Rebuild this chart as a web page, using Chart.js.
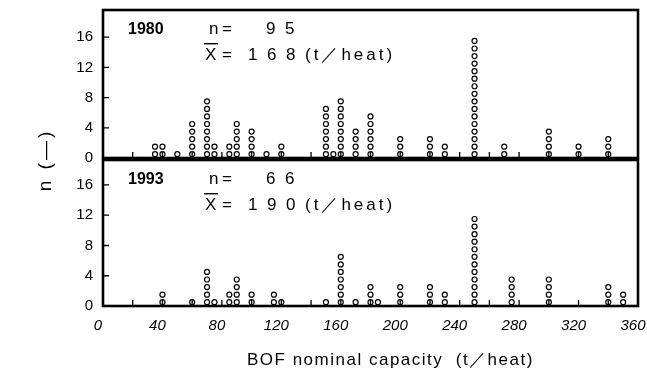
<!DOCTYPE html>
<html>
<head>
<meta charset="utf-8">
<script src="https://cdn.jsdelivr.net/npm/chart.js@4"></script>
<style>
  body { margin: 0; background: #fff; }
  #wrap { position: relative; width: 647px; height: 376px; }
  canvas { position: absolute; left: 0; }
</style>
</head>
<body>
<div id="wrap">
  <canvas id="bottomChart" width="647" height="376" style="top:0"></canvas>
  <canvas id="topChart" width="647" height="166" style="top:0"></canvas>
</div>
<script>
// Datele: capacitatea convertizorului si cate unitati au fiecare capacitate
const capacities1980 = [35, 40, 50, 60, 70, 75, 85, 90, 100, 110, 120, 150, 155, 160, 170, 180, 200, 220, 230, 250, 270, 300, 320, 340];
const counts1980 = [2, 2, 1, 5, 8, 2, 2, 5, 4, 1, 2, 7, 1, 8, 4, 6, 3, 3, 2, 16, 2, 4, 2, 3];
const capacities1993 = [40, 60, 70, 75, 85, 90, 100, 115, 120, 150, 160, 170, 180, 185, 200, 220, 230, 250, 275, 300, 340, 350];
const counts1993 = [2, 1, 5, 1, 2, 4, 2, 2, 1, 1, 7, 1, 3, 1, 3, 3, 2, 12, 4, 4, 3, 2];
const yTickValues = [0, 4, 8, 12, 16];
const xTickValues = [0, 40, 80, 120, 160, 200, 240, 280, 320, 360];
const xMinorTicks = [20, 40, 60, 80, 100, 120, 140, 160, 180, 200, 220, 240, 260, 280, 300, 320, 340];

const FONT = '"Liberation Sans", Arial, sans-serif';

// fiecare unitate devine un cerc asezat pe coloana
function stackPoints(caps, counts) {
    const pts = [];
    caps.forEach((c, i) => {
        for (let k = 1; k <= counts[i]; k++) pts.push({ x: c, y: k - 0.5 });
    });
    return pts;
}

// rama groasa si liniutele interioare
const framePlugin = {
    id: 'frame',
    afterDraw(chart) {
        const ctx = chart.ctx;
        const { left, right, top, bottom } = chart.chartArea;
        const xs = chart.scales.x, ys = chart.scales.y;
        ctx.save();
        ctx.strokeStyle = '#000';
        ctx.lineWidth = 1.3;
        ctx.beginPath();
        xMinorTicks.forEach(v => {
            const px = xs.getPixelForValue(v);
            ctx.moveTo(px, bottom);
            ctx.lineTo(px, bottom - 6);
        });
        yTickValues.slice(1).forEach(v => {
            const py = ys.getPixelForValue(v);
            ctx.moveTo(left, py);
            ctx.lineTo(left + 6, py);
        });
        ctx.stroke();
        ctx.lineWidth = 2.6;
        ctx.strokeRect(left, top, right - left, bottom - top);
        ctx.restore();
    }
};

// textul din fiecare panou: anul, n si media
const panelTextPlugin = {
    id: 'panelText',
    afterDraw(chart, args, opts) {
        if (!opts.year) return;
        const ctx = chart.ctx;
        const b1 = opts.base, b2 = opts.base + 26;
        ctx.save();
        ctx.fillStyle = '#000';
        ctx.textBaseline = 'alphabetic';
        ctx.font = 'bold 16px ' + FONT;
        ctx.fillText(opts.year, 128, b1);
        ctx.font = '17px ' + FONT;
        ctx.fillText('n', 209, b1);
        ctx.fillText('=', 222, b1);
        String(opts.n).split('').forEach((d, i) => ctx.fillText(d, 266 + i * 19, b1));
        ctx.fillText('X', 205, b2);
        ctx.fillRect(204, b2 - 17, 14, 1.4);
        ctx.fillText('=', 222, b2);
        String(opts.mean).split('').forEach((d, i) => ctx.fillText(d, 248 + i * 19, b2));
        ctx.letterSpacing = '3px';
        ctx.fillText('(t\uFF0Fheat)', 305, b2);
        ctx.restore();
    }
};

// titlurile axelor
const axisTitlePlugin = {
    id: 'axisTitles',
    afterDraw(chart, args, opts) {
        if (!opts.show) return;
        const ctx = chart.ctx;
        ctx.save();
        ctx.fillStyle = '#000';
        ctx.font = '17px ' + FONT;
        ctx.letterSpacing = '1.5px';
        ctx.textBaseline = 'alphabetic';
        ctx.fillText('BOF nominal capacity  (t\uFF0Fheat)', 247, 365);
        ctx.translate(46, 160);
        ctx.rotate(-Math.PI / 2);
        ctx.textAlign = 'center';
        ctx.textBaseline = 'middle';
        ctx.font = '19px ' + FONT;
        ctx.letterSpacing = '3px';
        ctx.fillText('n (\u2014)', 0, 0);
        ctx.restore();
    }
};

function makeOptions(showX, padTop, padBottom, yMax, panel) {
    return {
        responsive: false,
        animation: false,
        devicePixelRatio: 1,
        layout: { padding: { top: padTop, bottom: padBottom, right: 9, left: 0 } },
        plugins: {
            legend: { display: false },
            tooltip: { enabled: false },
            panelText: panel,
            axisTitles: { show: showX }
        },
        scales: {
            x: {
                type: 'linear',
                min: 0,
                max: 360,
                display: showX,
                grid: { display: false, drawTicks: false },
                border: { display: false },
                afterBuildTicks: s => { s.ticks = xTickValues.map(v => ({ value: v })); },
                afterFit: s => {
                    s.height = showX ? 70 : 0;
                    s.paddingLeft = 0; s.paddingRight = 0;
                },
                ticks: {
                    padding: 11,
                    labelOffset: -5,
                    color: '#000',
                    maxRotation: 0,
                    autoSkip: false,
                    font: { family: FONT, size: 15, style: 'italic' }
                }
            },
            y: {
                min: 0,
                max: yMax,
                grid: { display: false, drawTicks: false },
                border: { display: false },
                afterBuildTicks: s => { s.ticks = yTickValues.map(v => ({ value: v })); },
                afterFit: s => {
                    s.width = 103;
                    s.paddingTop = 0; s.paddingBottom = 0;
                },
                ticks: {
                    padding: 10,
                    color: '#000',
                    font: { family: FONT, size: 15 }
                }
            }
        }
    };
}

function makeDataset(caps, counts) {
    return {
        data: stackPoints(caps, counts),
        showLine: false,
        pointStyle: 'circle',
        pointRadius: 2.5,
        pointBorderWidth: 1.2,
        pointBorderColor: '#000',
        pointBackgroundColor: 'rgba(0,0,0,0)'
    };
}

new Chart(document.getElementById('topChart').getContext('2d'), {
    type: 'scatter',
    data: { datasets: [makeDataset(capacities1980, counts1980)] },
    options: makeOptions(false, 10, 8, 19.6, { year: '1980', n: 95, mean: 168, base: 34 }),
    plugins: [framePlugin, panelTextPlugin, axisTitlePlugin]
});

new Chart(document.getElementById('bottomChart').getContext('2d'), {
    type: 'scatter',
    data: { datasets: [makeDataset(capacities1993, counts1993)] },
    options: makeOptions(true, 160, 0, 19.3, { year: '1993', n: 66, mean: 190, base: 184 }),
    plugins: [framePlugin, panelTextPlugin, axisTitlePlugin]
});
</script>
</body>
</html>
